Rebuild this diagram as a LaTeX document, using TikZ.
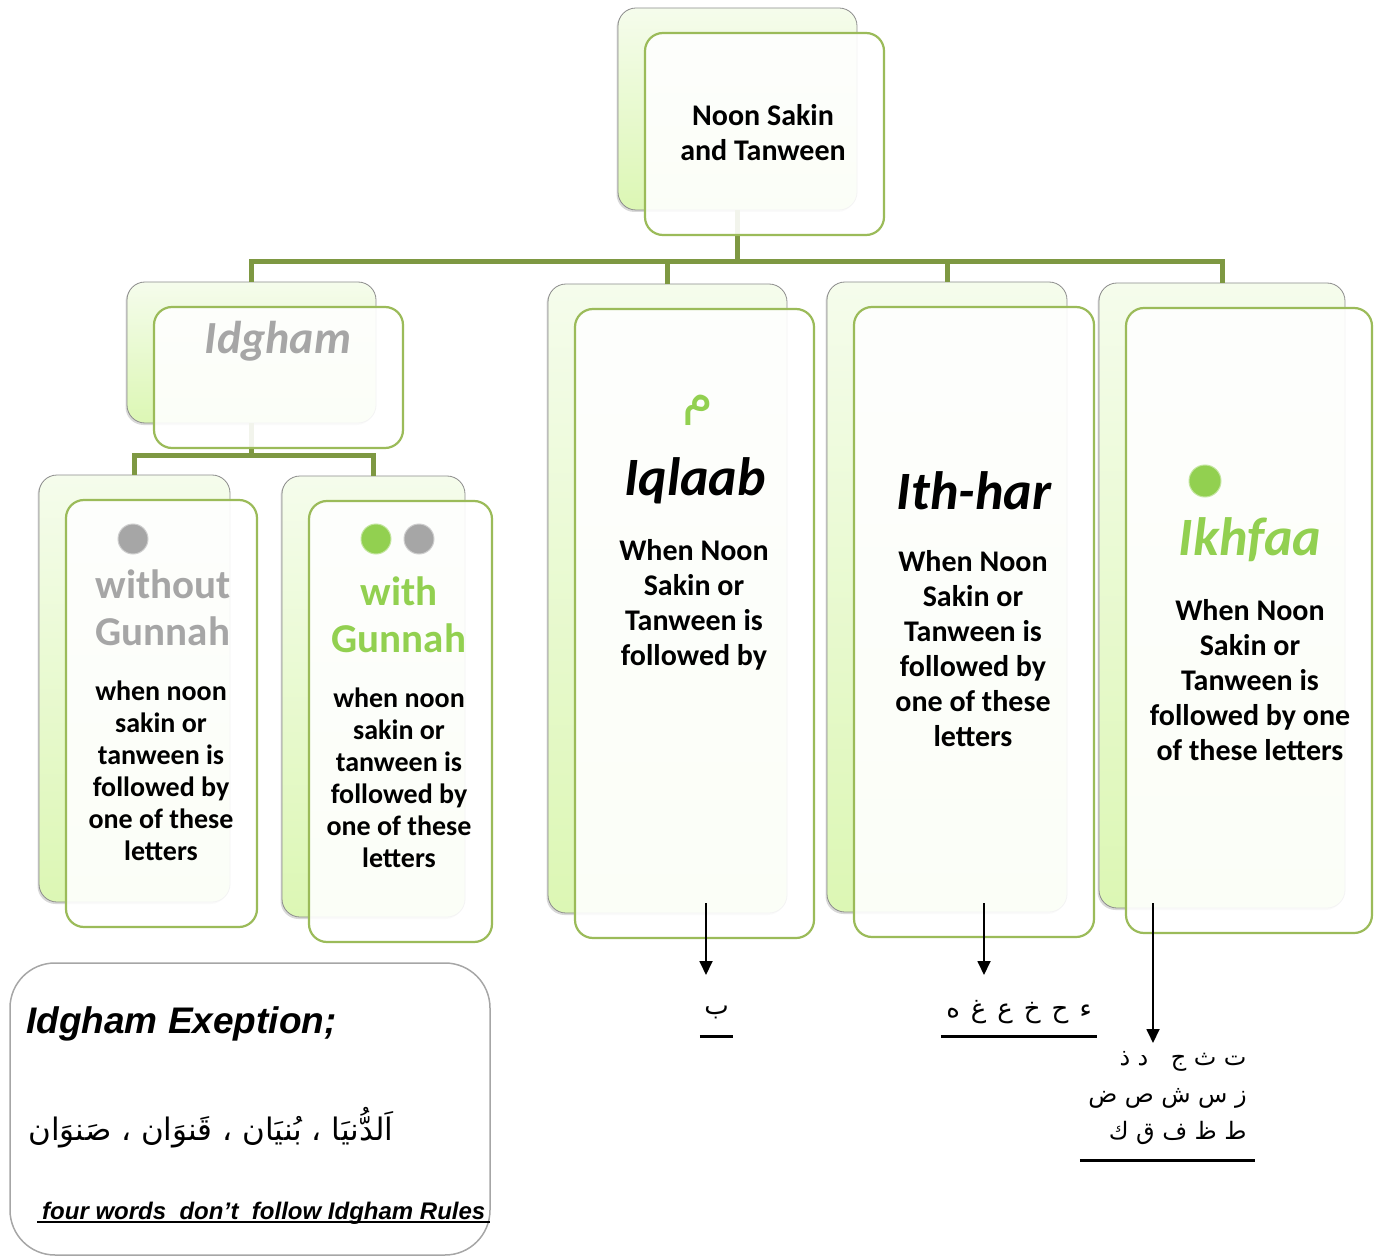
\documentclass[tikz,border=0pt]{standalone}
\usepackage{fontspec}
\setmainfont{Carlito}
\newfontfamily\arabicfont[Script=Arabic]{DejaVu Sans}
\newfontfamily\arialfont{Liberation Sans}
\TeXXeTstate=1
\usetikzlibrary{arrows.meta,shadows}

\definecolor{linkgreen}{RGB}{126,152,66}
\definecolor{cardgreen}{RGB}{155,187,89}
\definecolor{paletop}{RGB}{245,252,236}
\definecolor{palebottom}{RGB}{220,247,180}
\definecolor{titlegray}{RGB}{166,166,166}
\definecolor{titlegreen}{RGB}{146,208,80}

\tikzset{
  backcard/.style={rounded corners=18pt, draw=black!45, line width=0.8pt, top color=paletop, bottom color=palebottom, drop shadow={shadow xshift=-1.5pt, shadow yshift=-2pt, opacity=0.3}},
  frontcard/.style={rounded corners=18pt, draw=cardgreen, line width=2.2pt, fill=white, fill opacity=0.9},
  link/.style={draw=linkgreen, line width=5pt},
  pointer/.style={-{Triangle[length=14pt,width=13pt]}, line width=1.8pt},
  rule/.style={line width=3pt},
  dot/.style={circle, minimum size=30pt, inner sep=0pt, draw=#1!55!white, line width=1pt, fill=#1},
  head/.style={font=\fontsize{54}{60}\selectfont\bfseries\itshape},
  subhead/.style={align=center, font=\fontsize{41}{47}\selectfont\bfseries},
  body/.style={align=center, font=\fontsize{30}{35}\selectfont\bfseries},
  smallbody/.style={align=center, font=\fontsize{28}{32}\selectfont\bfseries},
  letters/.style={font=\arabicfont\fontsize{24}{37}\selectfont, inner sep=0pt}
}

\newcommand\gap{\hspace{11pt}}
\newcommand\tgap{\hspace{7.5pt}}
\def\cardlist{root/618/8/857/210, idgham/127/282/376/423, without/39/475/230/902, with/282/476/465/917, iqlaab/548/284/787/913, ithhar/827/282/1067/912, ikhfaa/1099/283/1345/908}

\begin{document}
\begin{tikzpicture}[x=1pt, y=-1pt]
\useasboundingbox (0,0) rectangle (1382,1257);
%%% back cards
\foreach \nm/\xa/\ya/\xb/\yb in \cardlist {\node[backcard, minimum width={(\xb-\xa)*1pt}, minimum height={(\yb-\ya)*1pt}] (\nm-b) at ({(\xa+\xb)/2},{(\ya+\yb)/2}) {};}
%%% connectors
\draw[link] (root-b.south) -- ++(0,51) coordinate (hub);
\foreach \kid in {idgham,iqlaab,ithhar,ikhfaa} {\draw[link] (hub) -| (\kid-b.north);}
\draw[link] (idgham-b.south) -- ++(0,32) coordinate (fork);
\foreach \kid in {without,with} {\draw[link] (fork) -| (\kid-b.north);}
%%% front cards
\foreach \nm/\xa/\ya/\xb/\yb in \cardlist {\node[frontcard, minimum width={(\xb-\xa)*1pt}, minimum height={(\yb-\ya)*1pt}] (\nm-f) at ({(\xa+\xb)/2+27},{(\ya+\yb)/2+25}) {};}
%%% texts
\node[body] (root-t) at (763,133) {Noon Sakin\\and Tanween};
\node[head, font=\fontsize{46}{50}\selectfont\bfseries\itshape, text=titlegray] (idgham-t) at (278,341) {Idgham};
\node[dot=titlegray] (without-d) at (133,539) {};
\node[subhead, text=titlegray] (without-t) at (163,608) {without\\Gunnah};
\node[smallbody] (without-x) at (161,771) {when noon\\sakin or\\tanween is\\followed by\\one of these\\letters};
\node[dot=titlegreen] (with-d1) at (376,539) {};
\node[dot=titlegray] (with-d2) at (419,539) {};
\node[subhead, text=titlegreen] (with-t) at (399,615) {with\\Gunnah};
\node[smallbody] (with-x) at (399,778) {when noon\\sakin or\\tanween is\\followed by\\one of these\\letters};
\node[text=titlegreen, font=\arabicfont\fontsize{50}{50}\selectfont] (iqlaab-m) at (698,410) {م};
\node[head] (iqlaab-t) at (695,481) {Iqlaab};
\node[body] (iqlaab-x) at (694,605) {When Noon\\Sakin or\\Tanween is\\followed by};
\node[head] (ithhar-t) at (974,491) {Ith-har};
\node[body] (ithhar-x) at (973,649) {When Noon\\Sakin or\\Tanween is\\followed by\\one of these\\letters};
\node[dot=titlegreen, minimum size=32pt] (ikhfaa-d) at (1205,481) {};
\node[head, text=titlegreen] (ikhfaa-t) at (1250,540) {Ikhfaa};
\node[body] (ikhfaa-x) at (1250,680) {When Noon\\Sakin or\\Tanween is\\followed by one\\of these letters};
%%% letters below
\coordinate (iqlaab-tail) at (706,903);
\coordinate (iqlaab-tip) at (706,975);
\coordinate (ithhar-tail) at (984,903);
\coordinate (ithhar-tip) at (984,975);
\coordinate (ikhfaa-tail) at (1153,903);
\coordinate (ikhfaa-tip) at (1153,1043);
\foreach \kid in {iqlaab,ithhar,ikhfaa} {\draw[pointer] (\kid-tail) -- (\kid-tip);}
\node[letters, font=\arabicfont\fontsize{26}{37}\selectfont, minimum width=33pt] (iqlaab-l) at (716.5,1012) {ب};
\node[letters, font=\arabicfont\fontsize{26}{37}\selectfont, minimum width=156pt] (ithhar-l) at (1019,1012) {\beginR ء\gap ح\gap خ\gap ع\gap غ\gap ه\endR};
\node[letters, font=\arabicfont\fontsize{24}{37}\selectfont, minimum width=175pt, align=right] (ikhfaa-l) at (1167.5,1098) {\beginR ت\tgap ث\tgap ج\tgap\tgap\tgap د\tgap ذ\endR\\\beginR ز\tgap س\tgap ش\tgap ص\tgap ض\endR\\\beginR ط\tgap ظ\tgap ف\tgap ق\tgap ك\endR};
\draw[rule] ([yshift=-24pt]iqlaab-l.west) -- ([yshift=-24pt]iqlaab-l.east);
\draw[rule] ([yshift=-24pt]ithhar-l.west) -- ([yshift=-24pt]ithhar-l.east);
\draw[rule] ([yshift=-62pt]ikhfaa-l.west) -- ([yshift=-62pt]ikhfaa-l.east);
%%% exception box
\node[draw=black!35, line width=1.5pt, rounded corners=45pt, minimum width=480pt, minimum height=292pt] (exception) at (250,1109) {};
\node[anchor=base west, inner sep=0pt, font=\arialfont\fontsize{37}{37}\selectfont\bfseries\itshape] (exception-t) at (26,1033) {Idgham Exeption;};
\node[font=\arabicfont\fontsize{31}{31}\selectfont] (exception-w) at (211,1128) {\beginR اَلدُّنيَا ، بُنيَان ، قَنوَان ، صَنوَان\endR};
\node[anchor=base west, inner xsep=5pt, inner ysep=0pt, font=\arialfont\fontsize{24}{24}\selectfont\bfseries\itshape] (exception-n) at (37,1219) {four words\ \ don’t\ \ follow Idgham Rules};
\draw[rule, line width=2.5pt] ([yshift=-3pt]exception-n.base west) -- ([yshift=-3pt]exception-n.base east);
\end{tikzpicture}
\end{document}
